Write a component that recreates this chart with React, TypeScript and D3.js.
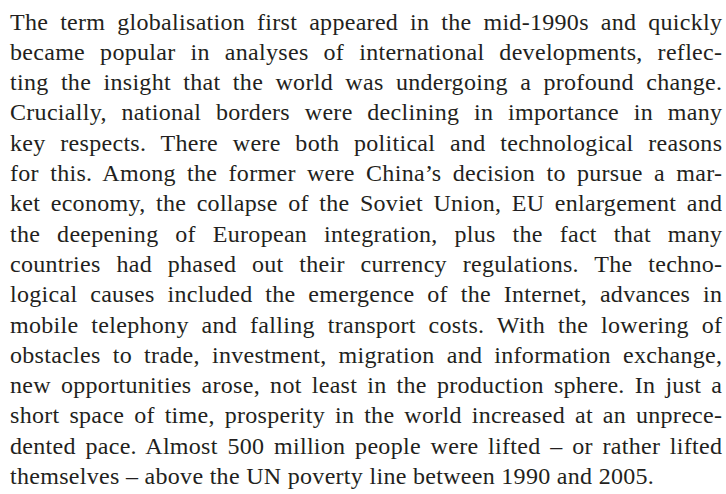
import React, { useEffect, useRef } from "react";
import * as d3 from "d3";

// Paragraph lines, as set in the reference.
const lines: string[] = [
  "The term globalisation first appeared in the mid-1990s and quickly",
  "became popular in analyses of international developments, reflec-",
  "ting the insight that the world was undergoing a profound change.",
  "Crucially, national borders were declining in importance in many",
  "key respects. There were both political and technological reasons",
  "for this. Among the former were China’s decision to pursue a mar-",
  "ket economy, the collapse of the Soviet Union, EU enlargement and",
  "the deepening of European integration, plus the fact that many",
  "countries had phased out their currency regulations. The techno-",
  "logical causes included the emergence of the Internet, advances in",
  "mobile telephony and falling transport costs. With the lowering of",
  "obstacles to trade, investment, migration and information exchange,",
  "new opportunities arose, not least in the production sphere. In just a",
  "short space of time, prosperity in the world increased at an unprece-",
  "dented pace. Almost 500 million people were lifted – or rather lifted",
  "themselves – above the UN poverty line between 1990 and 2005.",
];

const App = () => {
  const ref = useRef<SVGSVGElement>(null);

  useEffect(() => {
    const width = 726;
    const height = 494;
    const left = 10;
    const right = 722;
    const tracking = 0.3;

    const svg = d3.select(ref.current).attr("width", width).attr("height", height);
    svg.selectAll("*").remove();

    // one baseline per line
    const y = d3.scaleLinear().domain([0, lines.length - 1]).range([29.5, 484]);

    const text = svg
      .selectAll("text")
      .data(lines)
      .join("text")
      .attr("x", left)
      .attr("y", (_, i) => y(i))
      .attr("fill", "#231f20")
      .style("font-family", "Liberation Serif, serif")
      .style("font-size", "24px")
      .style("letter-spacing", `${tracking}px`)
      .style("white-space", "pre")
      .text((d) => d);

    // justify every line but the last by widening the word spaces
    text.each(function (d, i) {
      if (i === lines.length - 1) return;
      const el = this as SVGTextElement;
      const natural = el.getComputedTextLength() - tracking;
      const spaces = d.split(" ").length - 1;
      if (spaces > 0) {
        d3.select(el).attr("word-spacing", (right - left - natural) / spaces);
      }
    });
  }, []);

  return (
    <svg
      ref={ref}
      style={{ position: "absolute", left: 0, top: 0, background: "#fff" }}
    />
  );
};

export default App;
